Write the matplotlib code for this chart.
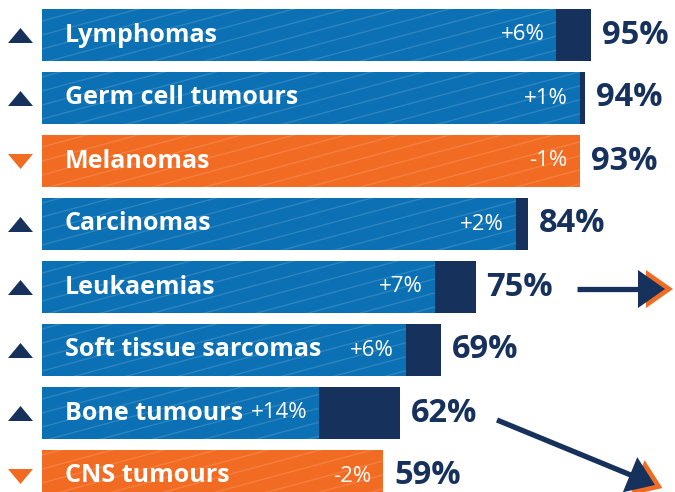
import numpy as np
import matplotlib.pyplot as plt
from matplotlib.collections import LineCollection
from matplotlib.patches import Polygon

plt.rcParams["font.family"] = ["Open Sans", "DejaVu Sans"]

# data
categories = ["Lymphomas", "Germ cell tumours", "Melanomas", "Carcinomas",
              "Leukaemias", "Soft tissue sarcomas", "Bone tumours", "CNS tumours"]
survival = [95, 94, 93, 84, 75, 69, 62, 59]
change = [6, 1, -1, 2, 7, 6, 14, -2]

blue = "#0B70B4"
orange = "#F26B22"
navy = "#16315B"

W, H = 675, 492
fig = plt.figure(figsize=(W / 100, H / 100), dpi=100)

# main axes spans the whole figure; 0% sits at x=42px, 1% = 5.78px, bar pitch 63px
ppu = 5.78
x0 = 42
pitch = 63
y0 = 35
ax = fig.add_axes([0, 0, 1, 1])
ax.set_xlim(-x0 / ppu, (W - x0) / ppu)
ax.set_ylim((H - y0) / pitch, -y0 / pitch)
ax.axis("off")

y = np.arange(len(categories))
surv = np.array(survival)
chg = np.array(change)
up = chg > 0
base = np.where(up, surv - chg, surv)
gain = np.where(up, chg, 0)
colors = [blue if u else orange for u in up]

bars = ax.barh(y, base, height=52 / pitch, color=colors, zorder=2)
ax.barh(y, gain, left=base, height=52 / pitch, color=navy, zorder=2)

# faint diagonal stripes on the coloured part
slope = -0.27 * ppu / pitch
xs = np.array([-10, 110])
for b in bars:
    segs = []
    for c in np.arange(-8, 12, 14 / pitch):
        segs.append(list(zip(xs, c + slope * xs)))
    lc = LineCollection(segs, colors="white", linewidths=1.0, alpha=0.14, zorder=3)
    ax.add_collection(lc)
    lc.set_clip_path(b)

# triangles for direction of change
tri_up = [(-1, -0.6), (1, -0.6), (0, 0.6)]
tri_dn = [(-1, 0.6), (1, 0.6), (0, -0.6)]
for i in range(len(categories)):
    ax.plot(-22 / ppu, y[i], marker=tri_up if up[i] else tri_dn, markersize=18,
            color=navy if up[i] else orange, markeredgewidth=0, zorder=4)
    ax.text(23 / ppu, y[i], categories[i], color="white", fontsize=18,
            fontweight="bold", va="center", ha="left", zorder=5)
    lab = f"+{chg[i]}%" if up[i] else f"{chg[i]}%"
    ax.text(base[i] - 12 / ppu, y[i], lab, color="white", fontsize=16,
            va="center", ha="right", zorder=5)
    ax.text(surv[i] + 11 / ppu, y[i], f"{surv[i]}%", color=navy, fontsize=23.5,
            fontweight="bold", va="center", ha="left", zorder=5)

# arrows, drawn in pixel space on an overlay
ov = fig.add_axes([0, 0, 1, 1])
ov.set_xlim(0, W)
ov.set_ylim(H, 0)
ov.axis("off")


def arrow(start, tip, head_len=27, head_half=19, shift=8):
    s = np.array(start, float)
    t = np.array(tip, float)
    d = (t - s) / np.linalg.norm(t - s)
    n = np.array([-d[1], d[0]])
    b = t - d * head_len
    for off, col in ((shift, orange), (0, navy)):
        o = d * off
        ov.add_patch(Polygon([t + o, b + n * head_half + o, b - n * head_half + o],
                             closed=True, color=col, lw=0))
    ov.plot([s[0], b[0] + d[0] * 2], [s[1], b[1] + d[1] * 2], color=navy,
            lw=3.8, solid_capstyle="butt")


arrow((577, 289), (665, 289))
arrow((497, 420), (655, 485))

fig.savefig("out.png", dpi=100)
